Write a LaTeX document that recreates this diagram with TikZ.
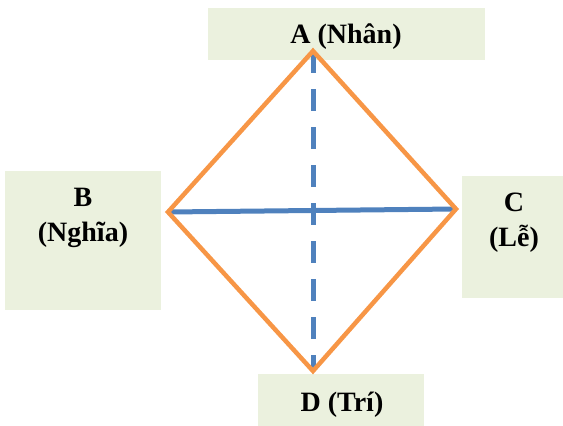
\documentclass[tikz,border=0pt]{standalone}
\usepackage{fontspec}
\setmainfont{Liberation Serif}
\definecolor{boxgreen}{HTML}{EBF1DE}
\definecolor{edgeorange}{HTML}{F79646}
\definecolor{axisblue}{HTML}{4F81BD}
\tikzset{
  labelbox/.style={fill=boxgreen, draw=none, inner sep=0pt},
  lbl/.style={font=\fontsize{28}{35}\selectfont\bfseries, align=center, inner sep=0pt},
  side/.style={draw=edgeorange, line width=4.5pt, line join=miter},
  axis/.style={draw=axisblue, line width=5pt},
}
\begin{document}
\begin{tikzpicture}[x=1pt,y=-1pt]
\useasboundingbox (0,0) rectangle (563,426);
% boxes
\fill[boxgreen] (208,8) rectangle (485,60);
\fill[boxgreen] (5,171) rectangle (161,310);
\fill[boxgreen] (462,176) rectangle (563,298);
\fill[boxgreen] (258,374) rectangle (424,426);
% labels
\node[lbl] (A) at (346,37) {A (Nhân)};
\node[lbl] (B) at (83,218) {B\\(Nghĩa)};
\node[lbl] (C) at (514,223) {C\\(Lễ)};
\node[lbl] (D) at (342,405) {D (Trí)};
% vertices
\coordinate (vA) at (313,51);
\coordinate (vB) at (168,212);
\coordinate (vC) at (456,209);
\coordinate (vD) at (313,371);
% axes
\draw[axis] (vB) -- (vC);
\draw[axis, dash pattern=on 22pt off 16pt] (vA) -- (vD);
% diamond
\draw[side] (vA) -- (vC) -- (vD) -- (vB) -- cycle;
\end{tikzpicture}
\end{document}
